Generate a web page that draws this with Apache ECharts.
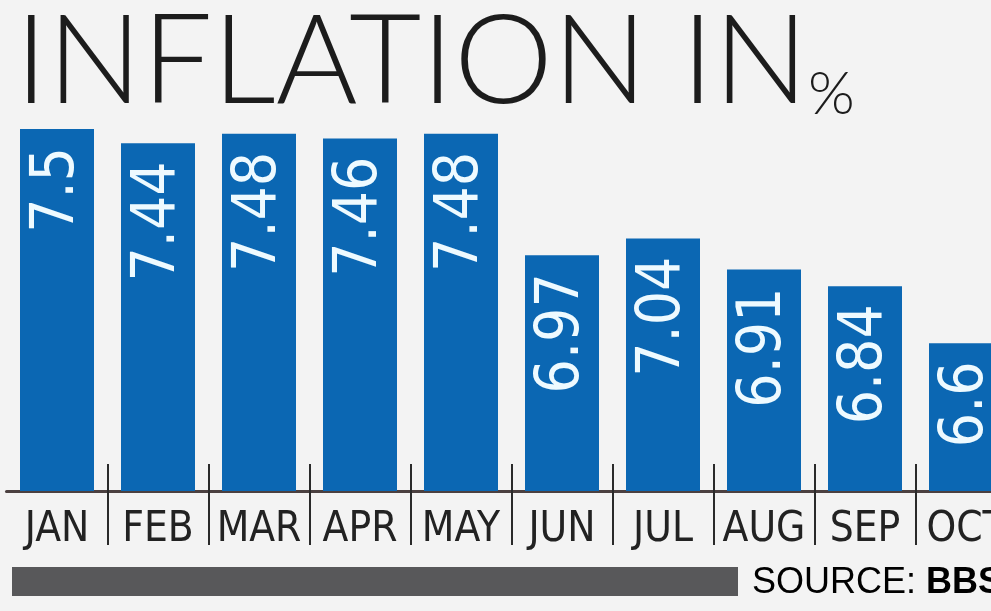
<!DOCTYPE html>
<html>
<head>
<meta charset="utf-8">
<script src="https://cdn.jsdelivr.net/npm/echarts@6/dist/echarts.min.js"></script>
<style>
  html, body { margin: 0; padding: 0; background: #f3f3f3; }
  #chart { width: 991px; height: 611px; }
</style>
</head>
<body>
<div id="chart"></div>
<script>
const months = ['JAN', 'FEB', 'MAR', 'APR', 'MAY', 'JUN', 'JUL', 'AUG', 'SEP', 'OCT']
const inflation = [7.5, 7.44, 7.48, 7.46, 7.48, 6.97, 7.04, 6.91, 6.84, 6.6]
const titleText = 'INFLATION IN'
const sourceLabel = 'SOURCE: '
const sourceName = 'BBS'

const narrowFont = "'Liberation Sans Narrow', 'Arial Narrow', 'DejaVu Sans Condensed', 'Roboto Condensed', Roboto, sans-serif"

const chart = echarts.init(document.getElementById('chart'), null, {renderer: 'canvas'})

const option = {
    backgroundColor: '#f3f3f3',
    animation: false,
    title: {
        text: '{a|' + titleText + '}{b|%}',
        left: 10,
        top: -5,
        textStyle: {
            rich: {
                a: {
                    fontFamily: 'Lato',
                    fontWeight: 300,
                    fontSize: 125,
                    color: '#1c1c1c',
                    verticalAlign: 'bottom'
                },
                b: {
                    fontFamily: 'Lato',
                    fontWeight: 300,
                    fontSize: 60,
                    color: '#1c1c1c',
                    verticalAlign: 'bottom'
                }
            }
        }
    },
    grid: {
        left: 6.5,
        width: 1010,
        top: 110,
        bottom: 120,
        outerBoundsMode: 'none'
    },
    xAxis: [
        {
            type: 'category',
            data: months,
            position: 'bottom',
            axisLine: {lineStyle: {color: '#4b4040', width: 3}},
            axisTick: {
                show: true,
                length: 54,
                interval: (idx) => idx !== 0,
                lineStyle: {color: '#2a2a2a', width: 2}
            },
            axisLabel: {
                interval: 0,
                fontFamily: narrowFont,
                fontSize: 42,
                color: '#222',
                margin: 18
            }
        },
        {
            type: 'category',
            data: months,
            position: 'bottom',
            axisLine: {show: false},
            axisTick: {
                show: true,
                inside: true,
                length: 27,
                interval: (idx) => idx !== 0,
                lineStyle: {color: '#2a2a2a', width: 2}
            },
            axisLabel: {show: false}
        }
    ],
    yAxis: {
        type: 'value',
        min: 5.98,
        max: 7.58,
        show: false
    },
    series: [
        {
            name: 'Inflation',
            type: 'bar',
            xAxisIndex: 0,
            data: inflation,
            barWidth: 74,
            itemStyle: {color: '#0b67b3'},
            label: {
                show: true,
                position: 'insideTop',
                distance: 18,
                rotate: 90,
                align: 'right',
                verticalAlign: 'middle',
                fontFamily: narrowFont,
                fontSize: 60,
                color: '#eefaff'
            }
        }
    ],
    graphic: [
        {
            type: 'rect',
            left: 12,
            top: 567,
            shape: {width: 726, height: 29},
            style: {fill: '#58585a'}
        },
        {
            type: 'text',
            left: 752,
            top: 565,
            style: {
                text: '{a|' + sourceLabel + '}{b|' + sourceName + '}',
                rich: {
                    a: {fontFamily: 'Liberation Sans', fontSize: 36, color: '#333'},
                    b: {fontFamily: 'Liberation Sans', fontSize: 36, fontWeight: 'bold', color: '#111'}
                }
            }
        }
    ]
}

chart.setOption(option)
</script>
</body>
</html>
